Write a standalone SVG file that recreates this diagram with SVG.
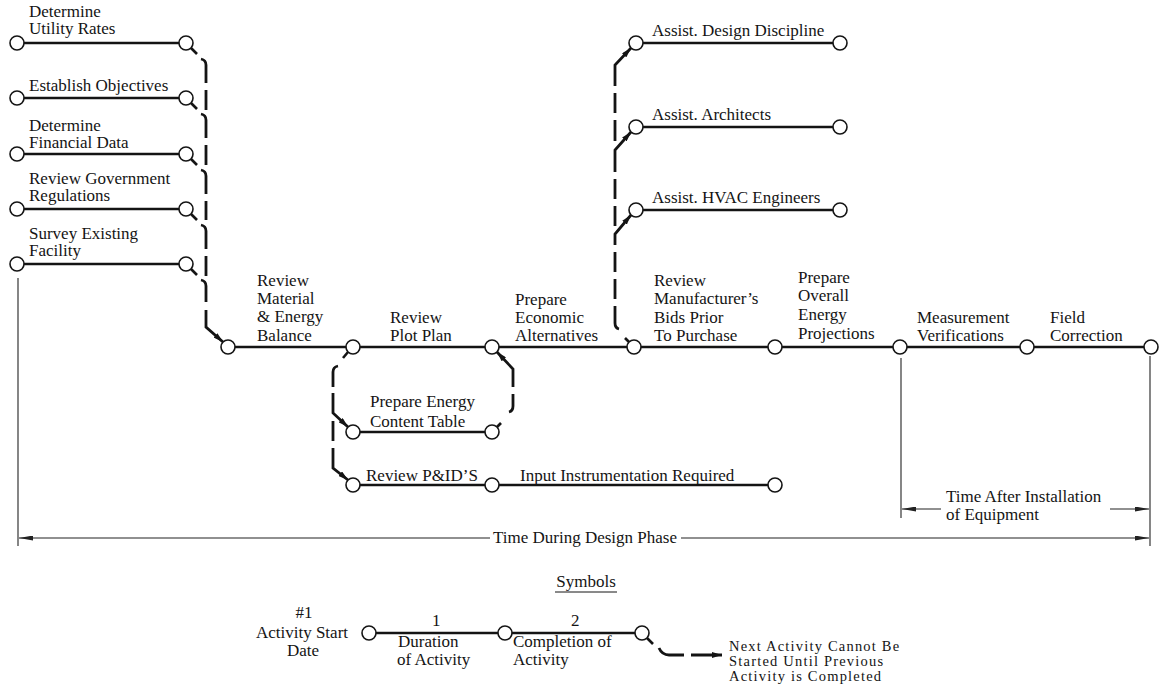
<svg xmlns="http://www.w3.org/2000/svg" width="1166" height="684" viewBox="0 0 1166 684">
<defs>
<style>
.lbl{font-family:"Liberation Serif","Times New Roman",serif;font-size:17px;fill:#141414}
.note{font-size:14.5px;letter-spacing:1.2px}
.act{stroke:#141414;stroke-width:2.6;fill:none}
.ev{fill:#fff;stroke:#141414;stroke-width:1.6}
.tail{stroke:#141414;stroke-width:2.6;fill:none}
.dep{stroke:#141414;stroke-width:2.8;fill:none}
.span{stroke:#222;stroke-width:1.1;fill:none}
</style>
<marker id="dep-arrow" viewBox="0 0 10 6" refX="10" refY="3" markerWidth="10" markerHeight="6" markerUnits="userSpaceOnUse" orient="auto"><path d="M0,0 L10,3 L0,6 z" fill="#141414"/></marker>
<marker id="span-arrow" viewBox="0 0 14 5" refX="14" refY="2.5" markerWidth="14" markerHeight="5" markerUnits="userSpaceOnUse" orient="auto"><path d="M0,0 L14,2.5 L0,5 z" fill="#222"/></marker>
</defs>
<rect width="1166" height="684" fill="#fff"/>

<!-- preliminary activities -->
<g id="determine-utility-rates">
<line class="act" x1="24" y1="43" x2="179" y2="43"/>
<circle class="ev" cx="17" cy="43" r="7"/><circle class="ev" cx="186" cy="43" r="7"/>
<line class="tail" x1="191" y1="48" x2="197" y2="54"/>
<text class="lbl" x="29" y="17">Determine</text><text class="lbl" x="29" y="34">Utility Rates</text>
</g>
<g id="establish-objectives">
<line class="act" x1="24" y1="98" x2="179" y2="98"/>
<circle class="ev" cx="17" cy="98" r="7"/><circle class="ev" cx="186" cy="98" r="7"/>
<line class="tail" x1="191" y1="103" x2="197" y2="109"/>
<text class="lbl" x="29" y="91">Establish Objectives</text>
</g>
<g id="determine-financial-data">
<line class="act" x1="24" y1="154" x2="179" y2="154"/>
<circle class="ev" cx="17" cy="154" r="7"/><circle class="ev" cx="186" cy="154" r="7"/>
<line class="tail" x1="191" y1="159" x2="197" y2="165"/>
<text class="lbl" x="29" y="131">Determine</text><text class="lbl" x="29" y="148">Financial Data</text>
</g>
<g id="review-government-regulations">
<line class="act" x1="24" y1="209" x2="179" y2="209"/>
<circle class="ev" cx="17" cy="209" r="7"/><circle class="ev" cx="186" cy="209" r="7"/>
<line class="tail" x1="191" y1="214" x2="197" y2="220"/>
<text class="lbl" x="29" y="184">Review Government</text><text class="lbl" x="29" y="201">Regulations</text>
</g>
<g id="survey-existing-facility">
<line class="act" x1="24" y1="264" x2="179" y2="264"/>
<circle class="ev" cx="17" cy="264" r="7"/><circle class="ev" cx="186" cy="264" r="7"/>
<line class="tail" x1="191" y1="269" x2="197" y2="275"/>
<text class="lbl" x="29" y="239">Survey Existing</text><text class="lbl" x="29" y="256">Facility</text>
</g>

<!-- main sequence -->
<g id="review-material-balance">
<line class="act" x1="235" y1="347" x2="346" y2="347"/>
<circle class="ev" cx="228" cy="347" r="7"/>
<text class="lbl"><tspan x="257" y="286">Review</tspan><tspan x="257" y="304">Material</tspan><tspan x="257" y="322">&amp; Energy</tspan><tspan x="257" y="341">Balance</tspan></text>
</g>
<g id="review-plot-plan">
<line class="act" x1="360" y1="347" x2="485" y2="347"/>
<circle class="ev" cx="353" cy="347" r="7"/>
<text class="lbl"><tspan x="390" y="323">Review</tspan><tspan x="390" y="341">Plot Plan</tspan></text>
</g>
<g id="prepare-economic-alternatives">
<line class="act" x1="499" y1="347" x2="627" y2="347"/>
<circle class="ev" cx="492" cy="347" r="7"/>
<text class="lbl"><tspan x="515" y="305">Prepare</tspan><tspan x="515" y="323">Economic</tspan><tspan x="515" y="341">Alternatives</tspan></text>
</g>
<g id="review-manufacturers-bids">
<line class="act" x1="641" y1="347" x2="768" y2="347"/>
<circle class="ev" cx="634" cy="347" r="7"/>
<text class="lbl"><tspan x="654" y="286">Review</tspan><tspan x="654" y="304">Manufacturer’s</tspan><tspan x="654" y="323">Bids Prior</tspan><tspan x="654" y="341">To Purchase</tspan></text>
</g>
<g id="prepare-energy-projections">
<line class="act" x1="782" y1="347" x2="893" y2="347"/>
<circle class="ev" cx="775" cy="347" r="7"/>
<text class="lbl"><tspan x="798" y="283">Prepare</tspan><tspan x="798" y="301">Overall</tspan><tspan x="798" y="320">Energy</tspan><tspan x="798" y="339">Projections</tspan></text>
</g>
<g id="measurement-verifications">
<line class="act" x1="907" y1="347" x2="1020" y2="347"/>
<circle class="ev" cx="900" cy="347" r="7"/>
<text class="lbl"><tspan x="917" y="323">Measurement</tspan><tspan x="917" y="341">Verifications</tspan></text>
</g>
<g id="field-correction">
<line class="act" x1="1034" y1="347" x2="1144" y2="347"/>
<circle class="ev" cx="1027" cy="347" r="7"/><circle class="ev" cx="1151" cy="347" r="7"/>
<text class="lbl"><tspan x="1050" y="323">Field</tspan><tspan x="1050" y="341">Correction</tspan></text>
</g>

<!-- parallel branches below the plot plan -->
<g id="prepare-energy-content-table">
<line class="act" x1="360" y1="432" x2="485" y2="432"/>
<circle class="ev" cx="353" cy="432" r="7"/><circle class="ev" cx="492" cy="432" r="7"/>
<text class="lbl"><tspan x="370" y="407">Prepare Energy</tspan><tspan x="370" y="427">Content Table</tspan></text>
</g>
<g id="review-pids">
<line class="act" x1="360" y1="485" x2="485" y2="485"/>
<circle class="ev" cx="353" cy="485" r="7"/>
<text class="lbl" x="366" y="481">Review P&amp;ID’S</text>
</g>
<g id="input-instrumentation">
<line class="act" x1="499" y1="485" x2="768" y2="485"/>
<circle class="ev" cx="492" cy="485" r="7"/><circle class="ev" cx="775" cy="485" r="7"/>
<text class="lbl" x="520" y="481">Input Instrumentation Required</text>
</g>

<!-- assistance branches -->
<g id="assist-design-discipline">
<line class="act" x1="643" y1="43" x2="833" y2="43"/>
<circle class="ev" cx="636" cy="43" r="7"/><circle class="ev" cx="840" cy="43" r="7"/>
<text class="lbl" x="652" y="36">Assist. Design Discipline</text>
</g>
<g id="assist-architects">
<line class="act" x1="643" y1="127" x2="833" y2="127"/>
<circle class="ev" cx="636" cy="127" r="7"/><circle class="ev" cx="840" cy="127" r="7"/>
<text class="lbl" x="652" y="120">Assist. Architects</text>
</g>
<g id="assist-hvac-engineers">
<line class="act" x1="643" y1="210" x2="833" y2="210"/>
<circle class="ev" cx="636" cy="210" r="7"/><circle class="ev" cx="840" cy="210" r="7"/>
<text class="lbl" x="652" y="203">Assist. HVAC Engineers</text>
</g>

<!-- dependency connectors -->
<g id="connectors">
<path class="dep" d="M201,59 Q206,60 206,65 V83 M206,90 V110 M201,114 Q206,115 206,120 V138 M206,145 V165 M201,170 Q206,171 206,176 V194 M206,201 V220 M201,225 Q206,226 206,231 V249 M206,256 V276 M201,280 Q206,281 206,286 V302 M206,310 V327 L223,342" marker-end="url(#dep-arrow)"/>
<path class="tail" d="M348,352 L343,358"/>
<path class="dep" d="M338,366 Q333,367 333,372 V387 M333,393 V413 L348,427" marker-end="url(#dep-arrow)"/>
<path class="dep" d="M333,421 V441 M333,448 V468 L348,480" marker-end="url(#dep-arrow)"/>
<path class="tail" d="M497,427 L501,423"/>
<path class="dep" d="M509,412 Q513,411 513,406 V394 M513,387 V369 L497,352" marker-end="url(#dep-arrow)"/>
<path class="tail" d="M629,342 L625,338"/>
<path class="dep" d="M619,329 Q615,328 615,323 V306 M615,299 V279 M615,272 V252 M615,245 V234 L631,215" marker-end="url(#dep-arrow)"/>
<path class="dep" d="M615,226 V206 M615,199 V179 M615,172 V150 L631,132" marker-end="url(#dep-arrow)"/>
<path class="dep" d="M615,141 V120 M615,113 V93 M615,86 V65 L631,48" marker-end="url(#dep-arrow)"/>
</g>

<!-- time spans -->
<g id="time-spans">
<path class="span" d="M18,278 V546"/>
<path class="span" d="M1150,356 V546"/>
<path class="span" d="M901,358 V518"/>
<path class="span" d="M490,538 H19" marker-end="url(#span-arrow)"/>
<path class="span" d="M681,538 H1149" marker-end="url(#span-arrow)"/>
<text class="lbl" x="585" y="543" text-anchor="middle">Time During Design Phase</text>
<path class="span" d="M941,509 H902" marker-end="url(#span-arrow)"/>
<path class="span" d="M1110,509 H1149" marker-end="url(#span-arrow)"/>
<text class="lbl"><tspan x="946" y="502">Time After Installation</tspan><tspan x="946" y="520">of Equipment</tspan></text>
</g>

<!-- legend -->
<g id="legend">
<text class="lbl" x="586" y="587" text-anchor="middle">Symbols</text>
<line x1="555" y1="592" x2="617" y2="592" stroke="#141414" stroke-width="1"/>
<text class="lbl" text-anchor="middle"><tspan x="304" y="618">#1</tspan><tspan x="302" y="638">Activity Start</tspan><tspan x="303" y="656">Date</tspan></text>
<line class="act" x1="376" y1="633" x2="498" y2="633"/>
<line class="act" x1="512" y1="633" x2="635" y2="633"/>
<circle class="ev" cx="369" cy="633" r="7"/>
<circle class="ev" cx="505" cy="633" r="7"/>
<circle class="ev" cx="642" cy="633" r="7"/>
<line class="tail" x1="647" y1="638" x2="653" y2="644"/>
<text class="lbl" x="432" y="626">1</text>
<text class="lbl" x="571" y="626">2</text>
<text class="lbl"><tspan x="398" y="647">Duration</tspan><tspan x="397" y="665">of Activity</tspan></text>
<text class="lbl"><tspan x="513" y="647">Completion of</tspan><tspan x="513" y="665">Activity</tspan></text>
<path class="dep" d="M659,648 Q662,655 669,655 H684 M691,655 H722" marker-end="url(#dep-arrow)"/>
<text class="lbl note"><tspan x="729" y="651">Next Activity Cannot Be</tspan><tspan x="729" y="666">Started Until Previous</tspan><tspan x="729" y="681">Activity is Completed</tspan></text>
</g>
</svg>
